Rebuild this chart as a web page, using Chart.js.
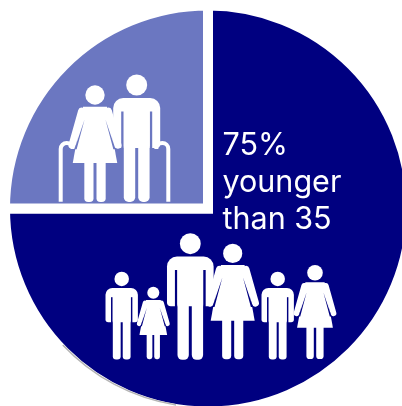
<!DOCTYPE html>
<html>
<head>
<meta charset="utf-8">
<title>Age split</title>
<script src="https://cdn.jsdelivr.net/npm/chart.js@4"></script>
<style>
  html, body { margin: 0; padding: 0; background: #fff; overflow: hidden; width: 402px; height: 406px; }
  #wrap { position: absolute; left: 0; top: 0; width: 416px; height: 417px; }
</style>
</head>
<body>
<div id="wrap"><canvas id="pie"></canvas></div>
<script>
const categories = ['younger than 35', '35 and older'];
const shares = [75, 25];
const sliceColors = ['#000080', '#6b77c1'];

const labelLines = [shares[0] + '%', 'younger', 'than 35'];
const labelBaselines = [155, 192, 229];

// pictograms: kind, centre x, top y, height, colour behind the figure
const figures = [
  ['man', 136.7, 74.5, 127, sliceColors[1]],
  ['woman', 95, 85.3, 116.7, sliceColors[1]],
  ['man', 190.3, 233.3, 126, sliceColors[0]],
  ['woman', 232.7, 243.8, 115.5, sliceColors[0]],
  ['man', 121.7, 271.7, 87.5, sliceColors[0]],
  ['woman', 153.3, 286.7, 72.5, sliceColors[0]],
  ['man', 277.7, 271.7, 87.5, sliceColors[0]],
  ['woman', 315, 265, 94, sliceColors[0]]
];

function roundedLeg(ctx, x, y, w, bottom) {
  ctx.beginPath();
  ctx.roundRect(x, y, w, bottom - y, [0, 0, w / 2.4, w / 2.4]);
  ctx.fill();
}

// man is 127 units tall, centred on x = 0
function drawMan(ctx, bg) {
  ctx.beginPath();
  ctx.arc(0, 10.5, 10.5, 0, Math.PI * 2);
  ctx.fill();
  // shoulders and arms
  ctx.beginPath();
  ctx.roundRect(-23.5, 23.5, 47, 50, [10, 10, 4, 4]);
  ctx.fill();
  // gaps between arm and trunk
  ctx.fillStyle = bg;
  ctx.fillRect(-15.5, 37, 2.6, 38);
  ctx.fillRect(12.9, 37, 2.6, 38);
  // trunk and legs
  ctx.fillStyle = '#fff';
  roundedLeg(ctx, -12.9, 30, 11.4, 127.5);
  roundedLeg(ctx, 1.5, 30, 11.4, 127.5);
  ctx.fillRect(-12.9, 30, 25.8, 42);
}

// woman is 117 units tall, centred on x = 0
function drawWoman(ctx, bg) {
  ctx.beginPath();
  ctx.arc(0, 9.7, 9.7, 0, Math.PI * 2);
  ctx.fill();
  roundedLeg(ctx, -10.7, 70, 9.2, 117);
  roundedLeg(ctx, 1.5, 70, 9.2, 117);
  // arms
  ctx.strokeStyle = '#fff';
  ctx.lineWidth = 7.2;
  ctx.lineCap = 'round';
  ctx.beginPath();
  ctx.moveTo(-13.4, 26);
  ctx.lineTo(-23, 60);
  ctx.moveTo(13.4, 26);
  ctx.lineTo(23, 60);
  ctx.stroke();
  // dress
  ctx.beginPath();
  ctx.moveTo(-12, 21.5);
  ctx.lineTo(12, 21.5);
  ctx.lineTo(22.3, 78);
  ctx.lineTo(-22.3, 78);
  ctx.closePath();
  ctx.fill();
  // slit between arm and dress, opening towards the hand
  ctx.fillStyle = bg;
  ctx.beginPath();
  ctx.moveTo(-10.4, 34);
  ctx.lineTo(-20.6, 64);
  ctx.lineTo(-18.4, 64);
  ctx.closePath();
  ctx.moveTo(10.4, 34);
  ctx.lineTo(20.6, 64);
  ctx.lineTo(18.4, 64);
  ctx.closePath();
  ctx.fill();
  ctx.fillStyle = '#fff';
}

function drawCanes(ctx) {
  ctx.strokeStyle = '#fff';
  ctx.lineWidth = 4;
  ctx.lineCap = 'butt';
  ctx.beginPath();
  ctx.moveTo(60.7, 201.7);
  ctx.lineTo(60.7, 149);
  ctx.arc(66.7, 149, 6, Math.PI, Math.PI * 2);
  ctx.moveTo(168.3, 201.7);
  ctx.lineTo(168.3, 149);
  ctx.arc(162.3, 149, 6, 0, -Math.PI, true);
  ctx.stroke();
}

const pictograms = {
  id: 'pictograms',
  afterDatasetsDraw(chart) {
    const arc = chart.getDatasetMeta(0).data[0];
    const ctx = chart.ctx;
    ctx.save();
    // thin grey rim under the lower left of the pie
    ctx.strokeStyle = '#b4b4b4';
    ctx.lineWidth = 1.5;
    ctx.beginPath();
    ctx.arc(arc.x - 0.9, arc.y + 0.9, arc.outerRadius - 5, Math.PI * 0.55, Math.PI * 0.76);
    ctx.stroke();
    drawCanes(ctx);
    figures.forEach(([kind, x, top, h, bg]) => {
      const s = h / (kind === 'man' ? 127 : 117);
      ctx.save();
      ctx.translate(x, top);
      ctx.scale(s, s);
      ctx.fillStyle = '#fff';
      if (kind === 'man') drawMan(ctx, bg);
      else drawWoman(ctx, bg);
      ctx.restore();
    });
    ctx.fillStyle = '#fff';
    ctx.font = '400 30.5px Inter';
    ctx.textBaseline = 'alphabetic';
    labelLines.forEach((line, i) => ctx.fillText(line, 222.5, labelBaselines[i]));
    ctx.restore();
  }
};

new Chart(document.getElementById('pie'), {
  type: 'pie',
  data: {
    labels: categories,
    datasets: [{
      data: shares,
      backgroundColor: sliceColors,
      borderColor: '#fff',
      borderWidth: 10,
      borderAlign: 'center',
      borderJoinStyle: 'miter'
    }]
  },
  options: {
    responsive: true,
    maintainAspectRatio: false,
    animation: false,
    plugins: { legend: { display: false }, tooltip: { enabled: false } }
  },
  plugins: [pictograms]
});
</script>
</body>
</html>
